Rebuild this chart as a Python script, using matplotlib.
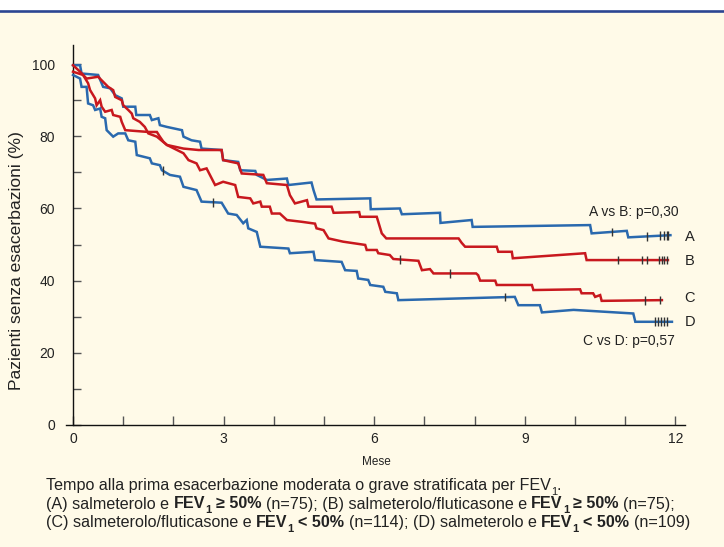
import matplotlib
matplotlib.use('Agg')
import matplotlib.pyplot as plt
import numpy as np
from matplotlib.patches import Rectangle
from matplotlib.lines import Line2D

# ---------------- data (months, % free of exacerbation) ----------------
a_t = [0, 0.14, 0.17, 0.50, 0.60, 0.74, 0.84, 0.97, 1.00, 1.24, 1.26, 1.53, 1.57, 1.70, 1.73, 1.87, 2.17, 2.20, 2.36, 2.53,
       2.56, 2.96, 2.99, 3.29, 3.33, 3.63, 3.66, 3.86, 4.26, 4.29, 4.75, 4.79, 4.85, 5.92, 5.93, 6.51, 6.55, 7.31, 7.32, 7.94,
       7.96, 10.30, 10.33, 11.03, 11.06, 11.90]
a_v = [99.7, 99.7, 97.4, 97.0, 93.7, 93.3, 91.4, 90.5, 88.2, 88.2, 85.9, 85.9, 84.5, 85.0, 83.1, 82.6, 81.7, 79.9, 78.9, 78.5,
       76.6, 76.2, 73.4, 72.9, 70.6, 70.4, 69.3, 67.9, 68.3, 66.5, 67.2, 65.1, 62.5, 62.8, 59.8, 60.0, 58.4, 58.8, 56.0, 56.8,
       54.9, 55.4, 53.1, 53.8, 52.0, 52.6]
a_cens = [10.73, 11.44, 11.69, 11.77, 11.83, 11.86]

b_t = [0, 0.20, 0.30, 0.34, 0.44, 0.47, 0.54, 0.57, 0.64, 0.77, 0.80, 0.94, 0.97, 1.04, 1.50, 1.67, 1.73, 1.80, 1.87, 2.20,
       2.50, 2.96, 2.99, 3.29, 3.36, 3.79, 3.86, 4.26, 4.32, 4.42, 4.66, 4.69, 5.15, 5.19, 5.70, 5.72, 6.05, 6.15, 6.24, 7.68,
       7.74, 7.81, 8.44, 8.47, 8.74, 8.76, 10.20, 10.23, 11.85]
b_v = [97.9, 97.0, 94.7, 92.8, 90.5, 88.6, 90.0, 88.2, 86.8, 87.3, 85.9, 85.4, 84.0, 81.7, 81.2, 81.2, 79.9, 78.5, 77.6, 76.6,
       76.2, 76.2, 73.4, 72.5, 69.7, 69.3, 67.0, 66.5, 63.7, 61.4, 62.3, 60.5, 60.5, 58.8, 59.0, 57.7, 57.7, 53.1, 51.7, 51.7,
       50.5, 49.4, 49.4, 48.0, 48.0, 46.2, 47.6, 45.7, 45.7]
b_cens = [10.86, 11.34, 11.43, 11.67, 11.73, 11.78, 11.83]

c_t = [0, 0.14, 0.27, 0.50, 0.60, 0.70, 0.80, 0.84, 0.97, 1.00, 1.10, 1.17, 1.20, 1.33, 1.43, 1.50, 1.67, 1.87, 2.20, 2.30,
       2.46, 2.53, 2.66, 2.83, 2.99, 3.23, 3.29, 3.53, 3.59, 3.73, 3.76, 3.92, 3.96, 4.12, 4.26, 4.56, 4.82, 4.85, 4.99, 5.09,
       5.38, 5.82, 5.85, 6.05, 6.08, 6.31, 6.38, 6.88, 6.95, 7.11, 7.18, 8.03, 8.07, 8.11, 8.41, 8.44, 9.14, 9.17, 10.10, 10.13,
       10.36, 10.40, 10.50, 10.53, 11.73]
c_v = [99.7, 97.9, 96.0, 96.5, 95.1, 93.7, 92.8, 90.9, 90.0, 88.6, 87.3, 86.3, 85.0, 84.0, 82.6, 80.8, 79.9, 77.6, 75.3, 73.4,
       72.5, 70.6, 71.1, 66.5, 67.4, 66.5, 63.2, 62.8, 61.4, 61.9, 60.5, 60.5, 58.6, 58.6, 56.8, 56.3, 55.8, 54.5, 54.0, 51.7,
       50.8, 49.9, 48.5, 48.5, 47.6, 47.1, 46.0, 45.5, 42.9, 43.2, 42.0, 42.0, 41.5, 40.0, 40.0, 38.8, 38.8, 37.4, 37.6, 36.5,
       36.5, 35.5, 36.0, 34.4, 34.6]
c_cens = [6.51, 7.51, 11.39, 11.69]

d_t = [0, 0.14, 0.17, 0.27, 0.30, 0.40, 0.44, 0.54, 0.57, 0.64, 0.67, 0.80, 0.90, 1.04, 1.10, 1.24, 1.27, 1.53, 1.57, 1.73,
       1.77, 1.93, 2.13, 2.20, 2.46, 2.56, 2.96, 3.09, 3.26, 3.39, 3.46, 3.49, 3.66, 3.73, 4.29, 4.32, 4.79, 4.82, 5.35, 5.42,
       5.65, 5.68, 5.88, 5.92, 6.18, 6.22, 6.45, 6.48, 8.80, 8.87, 9.30, 9.34, 9.97, 11.16, 11.20, 11.93]
d_v = [97.0, 96.0, 93.7, 93.7, 89.1, 88.6, 87.3, 87.7, 85.4, 85.0, 81.7, 79.9, 80.8, 80.8, 78.9, 78.5, 74.8, 73.9, 72.5, 72.0,
       70.6, 69.3, 68.8, 66.0, 65.1, 61.9, 61.6, 58.6, 58.2, 55.9, 56.8, 54.5, 53.5, 49.4, 48.9, 47.6, 48.0, 45.7, 45.2, 42.9,
       42.7, 40.6, 40.2, 38.8, 38.3, 36.9, 36.5, 34.6, 35.5, 33.2, 33.2, 31.2, 31.9, 30.9, 28.6, 28.6]
d_cens = [1.79, 2.78, 8.61, 11.60, 11.66, 11.72, 11.78, 11.84]

group_labels = ['A', 'B', 'C', 'D']
group_label_y = [52.1, 45.4, 35.2, 28.5]
x_ticks = list(range(13))
x_ticklabels = ['0', '', '', '3', '', '', '6', '', '', '9', '', '', '12']
y_ticks = list(range(0, 101, 10))
y_ticklabels = [str(v) if v % 20 == 0 else '' for v in y_ticks]
pAB = 'A vs B: p=0,30'
pCD = 'C vs D: p=0,57'
ylabel = 'Pazienti senza esacerbazioni (%)'
xlabel = 'Mese'

cap_line1 = [('Tempo alla prima esacerbazione moderata o grave stratificata per FEV', False, False),
             ('1', False, True), ('.', False, False)]
cap_line2 = [('(A) salmeterolo e ', False, False), ('FEV', True, False), ('1', True, True), (' ≥ 50%', True, False),
             (' (n=75); (B) salmeterolo/fluticasone e ', False, False), ('FEV', True, False), ('1', True, True),
             (' ≥ 50%', True, False), (' (n=75);', False, False)]
cap_line3 = [('(C) salmeterolo/fluticasone e ', False, False), ('FEV', True, False), ('1', True, True),
             (' < 50%', True, False), (' (n=114); (D) salmeterolo e ', False, False), ('FEV', True, False),
             ('1', True, True), (' < 50%', True, False), (' (n=109)', False, False)]

# ---------------- styling ----------------
BLUE = '#2A69AE'
RED = '#C8181E'
CREAM = '#FFFAE8'
TXT = '#222222'
BASEF = ['Liberation Sans', 'DejaVu Sans']
CAPF = ['Liberation Sans', 'DejaVu Sans']
plt.rcParams['font.family'] = BASEF

W, H = 724, 547
fig = plt.figure(figsize=(W / 100, H / 100), dpi=100)
fig.patch.set_facecolor('white')
fig.patches.append(Rectangle((0, 0), 1, 1 - 12 / H, transform=fig.transFigure,
                             facecolor=CREAM, edgecolor='none', zorder=-10))
fig.lines.append(Line2D([0, 1], [1 - 11.3 / H] * 2, transform=fig.transFigure, color='#2C4592', lw=1.9,
                        zorder=-5))

ax = fig.add_axes([66 / W, 1 - 425 / H, (685 - 66) / W, (425 - 45) / H])
ax.set_zorder(1)
ax.set_facecolor('none')
ax.set_xlim(-0.14, 12.19)
ax.set_ylim(0, 105.3)
for s in ['top', 'right']:
    ax.spines[s].set_visible(False)
ax.spines['left'].set_position(('data', 0))
for s in ['left', 'bottom']:
    ax.spines[s].set_color('#111111')
    ax.spines[s].set_linewidth(1.0)

ax.set_xticks(x_ticks)
ax.set_xticklabels(x_ticklabels)
ax.set_yticks(y_ticks)
ax.set_yticklabels(y_ticklabels)
ax.tick_params(axis='x', direction='in', length=6.5, width=1, color='#555555', pad=5,
               labelsize=10, labelcolor=TXT)
ax.tick_params(axis='y', direction='in', length=5.5, width=1, color='#555555', pad=13,
               labelsize=10, labelcolor=TXT)

curves = [(a_t, a_v, a_cens, BLUE), (b_t, b_v, b_cens, RED), (c_t, c_v, c_cens, RED), (d_t, d_v, d_cens, BLUE)]
for t, v, cens, col in curves:
    ax.plot(t, v, color=col, lw=1.8, solid_joinstyle='miter', zorder=3, clip_on=False)
    cy = np.interp(cens, t, v)
    ax.vlines(cens, cy - 1.2, cy + 1.2, color='#333333', lw=1.0, zorder=4)

for lab, yv in zip(group_labels, group_label_y):
    ax.text(12.18, yv, lab, ha='left', va='center', fontsize=10.5, color=TXT, clip_on=False)
ax.text(10.28, 59.0, pAB, ha='left', va='center', fontsize=10, color=TXT, clip_on=False)
ax.text(10.16, 23.3, pCD, ha='left', va='center', fontsize=10, color=TXT, clip_on=False)

fig.text(17 / W, 1 - 260 / H, ylabel, rotation=90, ha='center', va='center', fontsize=12.6, color=TXT)
fig.text(376 / W, 1 - 462 / H, xlabel, ha='center', va='center', fontsize=8.5, color=TXT, family=CAPF)

# ---------------- caption (chained rich text) ----------------
renderer = fig.canvas.get_renderer()


def text_width(s, **kw):
    t = fig.text(0, 0, s, **kw)
    w = t.get_window_extent(renderer).width
    t.remove()
    return w


def draw_pieces(pieces, x_px, base_px, size):
    x = x_px
    for text, bold, sub in pieces:
        fs = size * 0.68 if sub else size
        kw = dict(fontsize=fs, fontweight='bold' if bold else 'normal', family=CAPF, color=TXT)
        sw = text_width('a a', **kw) - text_width('aa', **kw)
        lead = len(text) - len(text.lstrip(' '))
        trail = len(text) - len(text.rstrip(' '))
        x += lead * sw
        core = text.strip(' ')
        dy = size * 100 / 72 * 0.28 if sub else 0
        t = fig.text(x / W, 1 - (base_px + dy) / H, core, ha='left', va='baseline', **kw)
        x += t.get_window_extent(renderer).width
        x += trail * sw


CAP_SIZE = 11.6
draw_pieces(cap_line1, 46, 490, CAP_SIZE)
draw_pieces(cap_line2, 46, 508.5, CAP_SIZE)
draw_pieces(cap_line3, 46, 527, CAP_SIZE)

fig.savefig('out.png', dpi=100, facecolor=fig.get_facecolor())
